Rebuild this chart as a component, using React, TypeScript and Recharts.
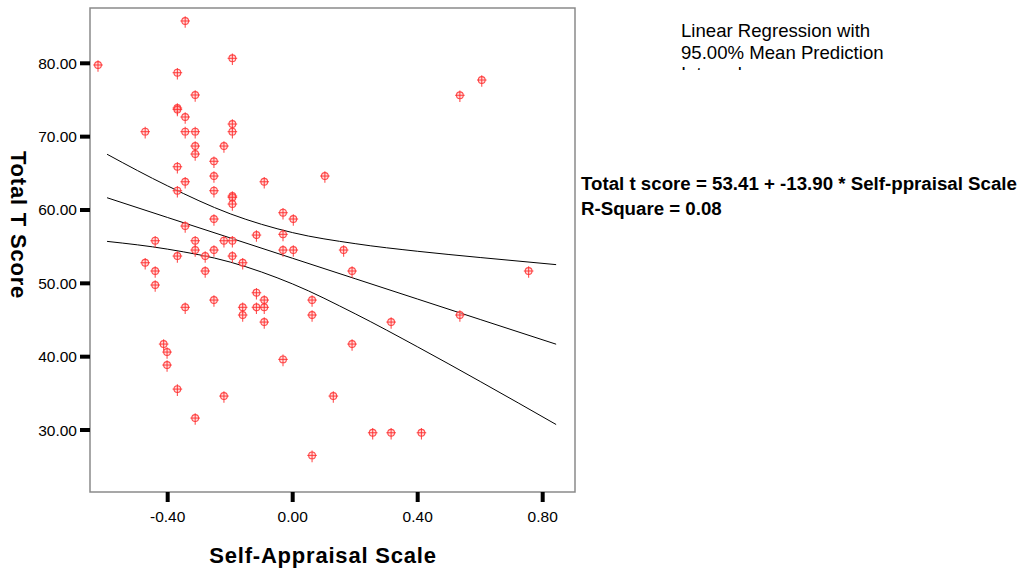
import { ComposedChart, Line, ReferenceArea, Scatter, XAxis, YAxis } from "recharts";

// Self-Appraisal Scale (x) and Total T Score (y) for each case
const selfAppraisal = [
  -0.344, -0.623, -0.193, -0.369, -0.312, -0.369, -0.369, -0.344, -0.193, -0.193,
  -0.472, -0.344, -0.312, -0.312, -0.22, -0.312, -0.252, -0.369, -0.252, -0.091,
  0.103, -0.344, -0.369, -0.252, -0.193, -0.193, -0.193, -0.252, -0.344, -0.031,
  0.002, -0.031, -0.116, -0.44, -0.312, -0.22, -0.193, 0.605, 0.535, 0.163,
  -0.312, -0.031, 0.002, -0.252, -0.369, -0.28, -0.193, -0.472, -0.16, -0.44,
  -0.28, -0.44, -0.116, -0.252, -0.091, 0.062, -0.344, -0.16, -0.116, -0.091,
  -0.16, 0.062, -0.091, -0.413, -0.402, -0.031, -0.402, -0.369, -0.22, -0.312,
  0.062, 0.19, 0.755, 0.315, 0.19, 0.535, 0.13, 0.256, 0.315, 0.412,
];
const totalT = [
  85.77, 79.77, 80.68, 78.72, 75.68, 73.9, 73.7, 72.68, 71.72, 70.68,
  70.68, 70.68, 70.68, 68.72, 68.72, 67.63, 66.64, 65.9, 64.63, 63.85,
  64.63, 63.85, 62.63, 62.63, 61.9, 61.72, 60.81, 58.77, 57.81, 59.63,
  58.77, 56.68, 56.58, 55.81, 55.81, 55.81, 55.81, 77.72, 75.64, 54.54,
  54.54, 54.54, 54.54, 54.54, 53.72, 53.72, 53.72, 52.81, 52.81, 51.68,
  51.68, 49.77, 48.72, 47.72, 47.72, 47.72, 46.73, 46.73, 46.73, 46.73,
  45.68, 45.68, 44.72, 41.72, 40.63, 39.63, 38.86, 35.58, 34.63, 31.63,
  26.54, 51.68, 51.68, 44.72, 41.72, 45.68, 34.63, 29.63, 29.63, 29.63,
];

// fit line and 95% mean prediction interval
const bandX = [-0.594, -0.4, -0.2, 0, 0.2, 0.4, 0.6, 0.843];
const fitY = [61.67, 58.97, 56.19, 53.41, 50.63, 47.85, 45.07, 41.7];
const upperY = [67.6, 63.28, 59.48, 56.91, 55.41, 54.37, 53.52, 52.55];
const lowerY = [55.72, 54.66, 52.9, 49.91, 45.85, 41.33, 36.62, 30.75];

const xTicks = [-0.4, 0, 0.4, 0.8];
const yTicks = [30, 40, 50, 60, 70, 80];

const X_DOMAIN: [number, number] = [-0.6486, 0.9034];
const Y_DOMAIN: [number, number] = [21.55, 87.54];

const FONT = "'Liberation Sans', Arial, sans-serif";

const puntos = selfAppraisal.map((x, i) => ({ x, y: totalT[i] }));
const bandas = bandX.map((x, i) => ({
  x,
  fit: fitY[i],
  upper: upperY[i],
  lower: lowerY[i],
}));

function Marcador({ cx, cy }: any) {
  if (cx == null || cy == null) return null;
  return (
    <g stroke="#ff3030" strokeOpacity={0.85} strokeWidth={1.1} fill="none">
      <circle cx={cx} cy={cy} r={3.4} fill="#ffc8c8" fillOpacity={0.6} />
      <line x1={cx - 4.8} y1={cy} x2={cx + 4.8} y2={cy} />
      <line x1={cx} y1={cy - 4.8} x2={cx} y2={cy + 6.8} />
    </g>
  );
}

export default function App() {
  return (
    <div style={{ position: "absolute", left: 0, top: 0, width: 1021, height: 569, background: "#fff" }}>
      <ComposedChart
        width={1021}
        height={569}
        data={bandas}
        margin={{ top: 8, right: 446, bottom: 0, left: 0 }}
      >
        <XAxis
          dataKey="x"
          type="number"
          domain={X_DOMAIN}
          ticks={xTicks}
          allowDataOverflow
          axisLine={false}
          tickLine={{ stroke: "#000", strokeWidth: 4 }}
          tickSize={10}
          tickMargin={9}
          height={77}
          tickFormatter={(v) => Number(v).toFixed(2)}
          tick={{ fill: "#000", fontSize: 15.5, fontFamily: FONT }}
        />
        <YAxis
          type="number"
          domain={Y_DOMAIN}
          ticks={yTicks}
          allowDataOverflow
          axisLine={false}
          tickLine={{ stroke: "#000", strokeWidth: 4 }}
          tickSize={10}
          tickMargin={3}
          width={90}
          tickFormatter={(v) => Number(v).toFixed(2)}
          tick={{ fill: "#000", fontSize: 15.5, fontFamily: FONT }}
        />
        <ReferenceArea
          x1={X_DOMAIN[0]}
          x2={X_DOMAIN[1]}
          y1={Y_DOMAIN[0]}
          y2={Y_DOMAIN[1]}
          fill="none"
          fillOpacity={0}
          stroke="#8a8a8a"
          strokeWidth={1.5}
        />
        <Line type="monotone" dataKey="upper" stroke="#000" strokeWidth={1} dot={false} isAnimationActive={false} />
        <Line type="linear" dataKey="fit" stroke="#000" strokeWidth={1} dot={false} isAnimationActive={false} />
        <Line type="monotone" dataKey="lower" stroke="#000" strokeWidth={1} dot={false} isAnimationActive={false} />
        <Scatter data={puntos} dataKey="y" shape={<Marcador />} isAnimationActive={false} />
      </ComposedChart>

      <svg
        width={1021}
        height={569}
        style={{ position: "absolute", left: 0, top: 0, pointerEvents: "none" }}
        fontFamily={FONT}
      >
        <defs>
          <clipPath id="corte-leyenda">
            <rect x={600} y={0} width={421} height={70} />
          </clipPath>
        </defs>
        <text
          x={18}
          y={225}
          transform="rotate(90, 18, 225)"
          textAnchor="middle"
          dominantBaseline="central"
          fontWeight="bold"
          fontSize={22}
          letterSpacing={0.8}
        >
          Total T Score
        </text>
        <text
          x={323}
          y={555}
          textAnchor="middle"
          dominantBaseline="central"
          fontWeight="bold"
          fontSize={22}
          letterSpacing={0.8}
        >
          Self-Appraisal Scale
        </text>
        <g fontSize={18.6} clipPath="url(#corte-leyenda)">
          <text x={681} y={37}>Linear Regression with</text>
          <text x={681} y={58.5}>95.00% Mean Prediction</text>
          <text x={681} y={80}>Interval</text>
        </g>
        <g fontSize={18.7} fontWeight="bold">
          <text x={581} y={190}>Total t score = 53.41 + -13.90 * Self-ppraisal Scale</text>
          <text x={581} y={214.5}>R-Square = 0.08</text>
        </g>
      </svg>
    </div>
  );
}
